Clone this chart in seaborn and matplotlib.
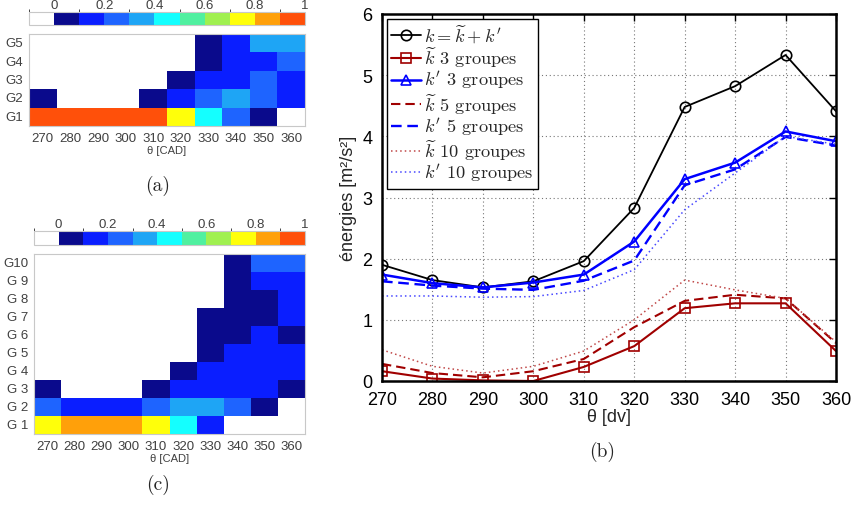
import numpy as np
import pandas as pd
import matplotlib
matplotlib.use("Agg")
import matplotlib.pyplot as plt
import seaborn as sns
from matplotlib.colors import ListedColormap, BoundaryNorm
from matplotlib.cm import ScalarMappable
from matplotlib.patches import Rectangle

nan = np.nan

# ---------------- data ----------------
theta = [270, 280, 290, 300, 310, 320, 330, 340, 350, 360]
theta_labels = [str(t) for t in theta]

k_total = [1.90, 1.65, 1.53, 1.63, 1.96, 2.83, 4.48, 4.82, 5.33, 4.41]
kt_3 = [0.16, 0.04, 0.01, 0.00, 0.23, 0.57, 1.19, 1.27, 1.27, 0.49]
kp_3 = [1.74, 1.60, 1.53, 1.61, 1.74, 2.28, 3.30, 3.57, 4.08, 3.92]
kt_5 = [0.28, 0.13, 0.06, 0.16, 0.36, 0.88, 1.31, 1.41, 1.35, 0.62]
kp_5 = [1.63, 1.56, 1.51, 1.49, 1.64, 1.97, 3.20, 3.46, 3.99, 3.85]
kt_10 = [0.51, 0.24, 0.13, 0.24, 0.49, 1.00, 1.65, 1.49, 1.35, 0.64]
kp_10 = [1.39, 1.39, 1.37, 1.38, 1.48, 1.82, 2.80, 3.40, 4.00, 3.87]

series_labels = [r"$k=\widetilde{k}+k'$",
                 r"$\widetilde{k}$ 3 groupes",
                 r"$k'$ 3 groupes",
                 r"$\widetilde{k}$ 5 groupes",
                 r"$k'$ 5 groupes",
                 r"$\widetilde{k}$ 10 groupes",
                 r"$k'$ 10 groupes"]

# heatmap (a): rows G1..G5, columns 270..360 (NaN = empty cell)
groups_a = ["G1", "G2", "G3", "G4", "G5"]
share_a_G1 = [0.95, 0.95, 0.95, 0.95, 0.95, 0.75, 0.45, 0.25, 0.05, nan]
share_a_G2 = [0.05, nan, nan, nan, 0.05, 0.15, 0.25, 0.35, 0.25, 0.15]
share_a_G3 = [nan, nan, nan, nan, nan, 0.05, 0.15, 0.15, 0.25, 0.15]
share_a_G4 = [nan, nan, nan, nan, nan, nan, 0.05, 0.15, 0.15, 0.25]
share_a_G5 = [nan, nan, nan, nan, nan, nan, 0.05, 0.15, 0.35, 0.35]

# heatmap (c): rows G1..G10
groups_c = ["G 1", "G 2", "G 3", "G 4", "G 5", "G 6", "G 7", "G 8", "G 9", "G10"]
share_c_G1 = [0.75, 0.85, 0.85, 0.85, 0.75, 0.45, 0.15, nan, nan, nan]
share_c_G2 = [0.25, 0.15, 0.15, 0.15, 0.25, 0.35, 0.35, 0.25, 0.05, nan]
share_c_G3 = [0.05, nan, nan, nan, 0.05, 0.15, 0.15, 0.15, 0.15, 0.05]
share_c_G4 = [nan, nan, nan, nan, nan, 0.05, 0.15, 0.15, 0.15, 0.15]
share_c_G5 = [nan, nan, nan, nan, nan, nan, 0.05, 0.15, 0.15, 0.15]
share_c_G6 = [nan, nan, nan, nan, nan, nan, 0.05, 0.05, 0.15, 0.05]
share_c_G7 = [nan, nan, nan, nan, nan, nan, 0.05, 0.05, 0.05, 0.15]
share_c_G8 = [nan, nan, nan, nan, nan, nan, nan, 0.05, 0.05, 0.15]
share_c_G9 = [nan, nan, nan, nan, nan, nan, nan, 0.05, 0.15, 0.15]
share_c_G10 = [nan, nan, nan, nan, nan, nan, nan, 0.05, 0.25, 0.25]

cbar_ticks = [0, 0.2, 0.4, 0.6, 0.8, 1]
cbar_ticklabels = ["0", "0.2", "0.4", "0.6", "0.8", "1"]

# ---------------- style ----------------
sns.set_style("white")
plt.rcParams["font.family"] = ["Liberation Sans", "DejaVu Sans"]
plt.rcParams["mathtext.fontset"] = "cm"

W, H = 866, 506
fig = plt.figure(figsize=(W / 100, H / 100), dpi=100)


def fr(x0, y0, x1, y1):
    return [x0 / W, 1 - y1 / H, (x1 - x0) / W, (y1 - y0) / H]


bin_colors = ["#ffffff", "#0a0a8c", "#0a1eff", "#1e64ff", "#1ea5f5", "#14ffff",
              "#50f0a0", "#a0f050", "#ffff0a", "#ffa00a", "#ff500a"]
cmap = ListedColormap(bin_colors)
norm = BoundaryNorm(np.linspace(-0.1, 1.0, 12), cmap.N)
txt_gray = "#404040"


def draw_heat(ax, cax, rows, labels, lab_pad):
    df = pd.DataFrame(rows[::-1], index=labels[::-1], columns=theta_labels)
    sns.heatmap(df, ax=ax, cmap=cmap, norm=norm, cbar=False,
                xticklabels=theta_labels, yticklabels=labels[::-1])
    for s in ax.spines.values():
        s.set_visible(True)
        s.set_color("#c8c8c8")
        s.set_linewidth(0.8)
    ax.tick_params(length=0, labelsize=9.5, colors=txt_gray, pad=4)
    plt.setp(ax.get_yticklabels(), rotation=0)
    plt.setp(ax.get_xticklabels(), rotation=0)
    ax.set_xlabel("θ [CAD]", fontsize=8, color=txt_gray, labelpad=lab_pad)
    ax.set_ylabel("")
    cb = fig.colorbar(ScalarMappable(norm=norm, cmap=cmap), cax=cax,
                      orientation="horizontal", ticks=cbar_ticks)
    cb.ax.xaxis.set_ticks_position("top")
    cb.ax.set_xticklabels(cbar_ticklabels)
    cb.ax.tick_params(length=0, labelsize=9.5, colors=txt_gray, pad=1)
    cb.outline.set_edgecolor("#c8c8c8")
    cb.outline.set_linewidth(0.8)


axA = fig.add_axes(fr(29, 35, 305, 127))
caxA = fig.add_axes(fr(29, 13, 305, 26))
draw_heat(axA, caxA, [share_a_G1, share_a_G2, share_a_G3, share_a_G4, share_a_G5],
          groups_a, 1)

axC = fig.add_axes(fr(34, 255, 305, 435))
caxC = fig.add_axes(fr(34, 232, 305, 246))
draw_heat(axC, caxC, [share_c_G1, share_c_G2, share_c_G3, share_c_G4, share_c_G5,
                      share_c_G6, share_c_G7, share_c_G8, share_c_G9, share_c_G10],
          groups_c, 1)

# ---------------- line chart (b) ----------------
axB = fig.add_axes(fr(382, 15, 836, 382))
dark_red = "#a00000"
blue = "#0000ff"
styles = [
    dict(color="black", ls="-", marker="o", lw=1.3),
    dict(color=dark_red, ls="-", marker="s", lw=1.5),
    dict(color=blue, ls="-", marker="^", lw=1.8),
    dict(color=dark_red, ls=(0, (4.5, 2.4)), marker=None, lw=1.5),
    dict(color=blue, ls=(0, (4.5, 2.4)), marker=None, lw=1.7),
    dict(color="#c04848", ls=(0, (1, 2)), marker=None, lw=1.1),
    dict(color="#4848ff", ls=(0, (1, 2)), marker=None, lw=1.1),
]
all_vals = [k_total, kt_3, kp_3, kt_5, kp_5, kt_10, kp_10]
for vals, lab, st in zip(all_vals, series_labels, styles):
    kw = dict(color=st["color"], linestyle=st["ls"], linewidth=st["lw"])
    if st["marker"]:
        kw.update(marker=st["marker"], markersize=7.5 if st["marker"] != "s" else 6.5,
                  markerfacecolor="none", markeredgecolor=st["color"],
                  markeredgewidth=1.2)
    sns.lineplot(x=theta, y=vals, ax=axB, label=lab, **kw)

axB.set_xlim(270, 360)
axB.set_ylim(0, 6)
axB.set_xticks(theta)
axB.set_yticks(range(0, 7))
axB.grid(True, linestyle=(0, (1, 2.5)), color="#777777", linewidth=0.8)
for s in axB.spines.values():
    s.set_visible(True)
    s.set_color("black")
    s.set_linewidth(1.8)
axB.tick_params(direction="in", length=5, width=1, top=True, right=True,
                labelsize=13, colors="black", pad=7)
axB.tick_params(axis="y", pad=7)
axB.set_xlabel("θ [dv]", fontsize=13, labelpad=0)
axB.set_ylabel("énergies [m²/s²]", fontsize=13, labelpad=4)

leg = axB.legend(loc="upper left", prop={"family": "cmr10", "size": 13.2},
                 frameon=True, fancybox=False, framealpha=1, edgecolor="black",
                 borderaxespad=0.25, handlelength=1.65, handletextpad=0.15,
                 labelspacing=0.0, borderpad=0.25)
leg.get_frame().set_linewidth(1.0)

# ---------------- panel labels ----------------
fig.text(158 / W, 1 - 186 / H, "(a)", family="cmr10", fontsize=14, ha="center", va="center")
fig.text(602 / W, 1 - 452 / H, "(b)", family="cmr10", fontsize=14, ha="center", va="center")
fig.text(158 / W, 1 - 485 / H, "(c)", family="cmr10", fontsize=14, ha="center", va="center")

# crop of the left images at x=310 (cuts the "1" of colorbars)
for y0, y1 in [(0, 30), (215, 248)]:
    fig.add_artist(Rectangle((309 / W, 1 - y1 / H), 20 / W, (y1 - y0) / H,
                             transform=fig.transFigure, facecolor="white",
                             edgecolor="none", zorder=20))

fig.savefig("out.png", dpi=100)
